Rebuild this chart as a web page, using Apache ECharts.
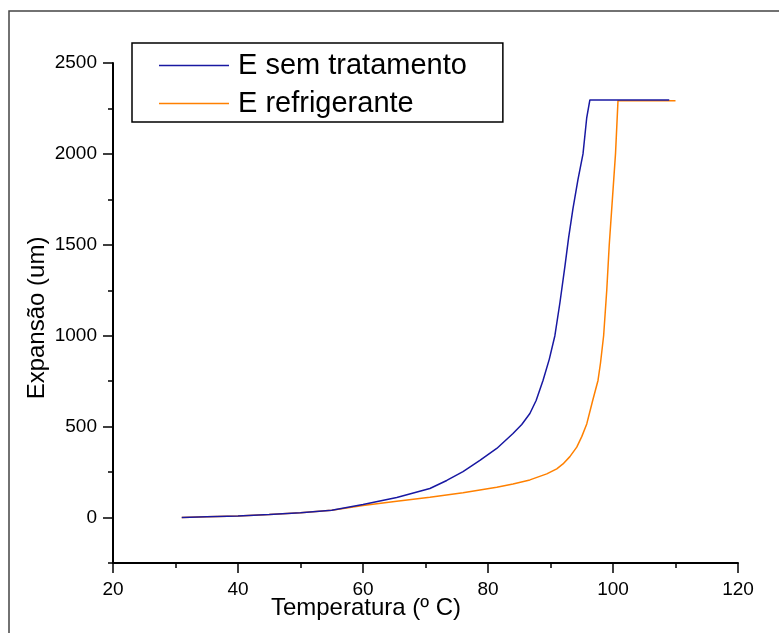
<!DOCTYPE html>
<html>
<head>
<meta charset="utf-8">
<script src="https://cdn.jsdelivr.net/npm/echarts@6/dist/echarts.min.js"></script>
<style>
  html, body { margin: 0; padding: 0; background: #fff; }
  #chart { width: 779px; height: 633px; }
</style>
</head>
<body>
<div id="chart"></div>
<script>
// Temperature (°C) and expansion (um) readings for each sample
const tempSemTratamento = [31, 35, 40, 45, 50, 55, 60, 65.4, 70.7, 73.4, 76, 78.7, 81.4, 84, 85.4, 86.7, 87.7, 88.8, 89.8, 90.7, 91.5, 92.3, 92.9, 93.6, 94.4, 95.2, 95.8, 96.3, 109];
const expSemTratamento  = [0, 4, 9, 17, 27, 40, 72, 110, 160, 204, 253, 314, 380, 462, 512, 572, 644, 754, 870, 1000, 1180, 1380, 1540, 1700, 1860, 2000, 2200, 2297, 2297];

const tempRefrigerante = [31, 35, 40, 45, 50, 55, 60, 65.4, 70.7, 76, 81.4, 84, 86.7, 89.4, 91, 92, 93.1, 94.2, 95, 95.8, 96.75, 97.6, 98, 98.5, 99, 99.4, 99.9, 100.4, 100.8, 110];
const expRefrigerante  = [0, 4, 9, 17, 27, 40, 66, 90, 112, 136, 167, 185, 207, 240, 268, 295, 335, 387, 445, 515, 644, 754, 850, 1000, 1250, 1500, 1750, 2000, 2293, 2293];

const seriesNames = ['E sem tratamento', 'E refrigerante'];
const yMajorTicks = [0, 500, 1000, 1500, 2000, 2500];
const yMinorTicks = [-250, 250, 750, 1250, 1750, 2250];

const FONT = '"Liberation Sans", Arial, sans-serif';

function pairs(xs, ys) { return xs.map((x, i) => [x, ys[i]]); }

const chart = echarts.init(document.getElementById('chart'), null, { renderer: 'canvas' });

const axisCommon = {
  axisLine: { show: true, onZero: false, lineStyle: { color: '#000', width: 2 } },
  splitLine: { show: false }
};

chart.setOption({
  backgroundColor: '#fff',
  animation: false,
  grid: { left: 113, top: 63, width: 625, height: 500, containLabel: false },
  legend: {
    left: 132, top: 43,
    orient: 'vertical',
    icon: 'rect',
    itemWidth: 70, itemHeight: 1.5,
    itemGap: 9,
    padding: [8, 36, 4, 27],
    borderColor: '#000', borderWidth: 1.5,
    backgroundColor: '#fff',
    textStyle: { fontFamily: FONT, fontSize: 29, color: '#000', padding: [0, 0, 0, 4] },
    data: seriesNames
  },
  xAxis: {
    type: 'value',
    min: 20, max: 120, interval: 20,
    ...axisCommon,
    axisTick: { show: true, inside: false, length: 10, lineStyle: { color: '#000', width: 1.5 } },
    minorTick: { show: true, splitNumber: 2, length: 5, lineStyle: { color: '#000', width: 1.5 } },
    axisLabel: { fontFamily: FONT, fontSize: 19, color: '#000', margin: 17, formatter: v => String(v) }
  },
  yAxis: [
    {
      type: 'value',
      min: -250, max: 2500,
      ...axisCommon,
      axisTick: { show: true, length: 10, customValues: yMajorTicks, lineStyle: { color: '#000', width: 1.5 } },
      axisLabel: { fontFamily: FONT, fontSize: 19, color: '#000', margin: 16, customValues: yMajorTicks, formatter: v => String(v) }
    },
    {
      type: 'value',
      min: -250, max: 2500,
      position: 'left',
      axisLine: { show: false },
      splitLine: { show: false },
      axisTick: { show: true, length: 5, customValues: yMinorTicks, lineStyle: { color: '#000', width: 1.5 } },
      axisLabel: { show: false }
    }
  ],
  series: [
    {
      name: seriesNames[0],
      type: 'line',
      data: pairs(tempSemTratamento, expSemTratamento),
      showSymbol: false, symbol: 'none',
      color: '#1818a2',
      lineStyle: { width: 1.5, color: '#1818a2' },
      z: 3
    },
    {
      name: seriesNames[1],
      type: 'line',
      data: pairs(tempRefrigerante, expRefrigerante),
      showSymbol: false, symbol: 'none',
      color: '#ff8000',
      lineStyle: { width: 1.5, color: '#ff8000' },
      z: 2
    }
  ],
  graphic: [
    {
      type: 'rect',
      shape: { x: 9, y: 11, width: 800, height: 700 },
      style: { fill: 'none', stroke: '#444', lineWidth: 1.5 },
      silent: true, z: -1
    },
    {
      type: 'text',
      x: 366, y: 608,
      style: {
        text: 'Temperatura (º C)',
        font: '24px ' + FONT,
        fill: '#000',
        align: 'center', verticalAlign: 'middle'
      }
    },
    {
      type: 'text',
      x: 37, y: 318,
      rotation: Math.PI / 2,
      style: {
        text: 'Expansão (um)',
        font: '24px ' + FONT,
        fill: '#000',
        align: 'center', verticalAlign: 'middle'
      }
    }
  ]
});
</script>
</body>
</html>
